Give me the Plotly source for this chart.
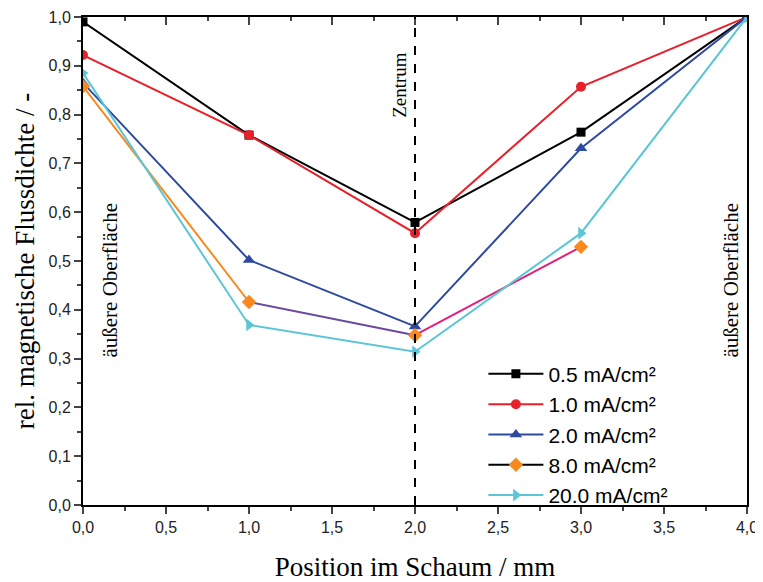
import plotly.graph_objects as go

positions = [0.0, 1.0, 2.0, 3.0, 4.0]
s05 = [0.99, 0.758, 0.579, 0.764, 1.0]
s10 = [0.922, 0.758, 0.557, 0.857, 1.0]
s20 = [0.865, 0.502, 0.366, 0.731, 1.0]
s80_x = [0.0, 1.0, 2.0, 3.0]
s80 = [0.858, 0.416, 0.348, 0.529]
s200 = [0.885, 0.369, 0.314, 0.557, 1.0]
labels = ["0.5 mA/cm²", "1.0 mA/cm²", "2.0 mA/cm²", "8.0 mA/cm²", "20.0 mA/cm²"]
seg_colors_80 = ["#f7891f", "#6a4a9c", "#e0207a"]

BLACK = "#000000"
RED = "#e8202a"
BLUE = "#2e4aa0"
ORANGE = "#f7891f"
CYAN = "#5cc6d6"

fig = go.Figure()

def add(x, y, name, color, symbol, size=9):
    fig.add_trace(go.Scatter(x=x, y=y, mode="lines+markers", name=name,
                             line=dict(color=color, width=2),
                             marker=dict(color=color, symbol=symbol, size=size)))

add(positions, s05, labels[0], BLACK, "square", 9)
add(positions, s10, labels[1], RED, "circle", 10)
add(positions, s20, labels[2], BLUE, "triangle-up", 11)

# 8.0 series: multicoloured segments, legend entry black line with orange diamond
for i in range(len(s80_x) - 1):
    fig.add_trace(go.Scatter(x=s80_x[i:i + 2], y=s80[i:i + 2], mode="lines",
                             line=dict(color=seg_colors_80[i], width=2),
                             showlegend=False, hoverinfo="skip"))
fig.add_trace(go.Scatter(x=s80_x, y=s80, mode="markers", showlegend=False,
                         marker=dict(color=ORANGE, symbol="diamond", size=11)))
fig.add_trace(go.Scatter(x=[None], y=[None], mode="lines+markers", name=labels[3],
                         line=dict(color=BLACK, width=2),
                         marker=dict(color=ORANGE, symbol="diamond", size=11)))

add(positions, s200, labels[4], CYAN, "triangle-right", 11)

# invisible trace for top axis
fig.add_trace(go.Scatter(x=[0, 4], y=[0, 0], xaxis="x2", mode="lines",
                         line=dict(width=0), showlegend=False, hoverinfo="skip"))

fig.add_shape(type="line", x0=2, x1=2, y0=0, y1=1, xref="x", yref="y",
              line=dict(color="black", width=2, dash="dash"))

serif = "Liberation Serif, Times New Roman, serif"
sans = "Liberation Sans, Arial, sans-serif"

fig.add_annotation(x=2, y=0.86, xref="x", yref="y", text="Zentrum", textangle=-90,
                   showarrow=False, xanchor="right", xshift=-3,
                   font=dict(family=serif, size=19, color="black"))
fig.add_annotation(x=0, y=0.46, xref="x", yref="y", text="äußere Oberfläche", textangle=-90,
                   showarrow=False, xanchor="left", xshift=13,
                   font=dict(family=serif, size=21, color="black"))
fig.add_annotation(x=4, y=0.46, xref="x", yref="y", text="äußere Oberfläche", textangle=-90,
                   showarrow=False, xanchor="right", xshift=-2,
                   font=dict(family=serif, size=21, color="black"))

# the page adds an 8px body margin; size the figure so the plot lands where the reference has it
fig.update_layout(
    width=755, height=574,
    margin=dict(l=75, r=16, t=9, b=77),
    paper_bgcolor="white", plot_bgcolor="white",
    showlegend=True,
    legend=dict(x=0.603, y=0.31, xanchor="left", yanchor="top",
                font=dict(family=sans, size=21, color="black"),
                bgcolor="rgba(0,0,0,0)", tracegroupgap=0, itemwidth=55),
    xaxis=dict(range=[0, 4], tickmode="linear", tick0=0, dtick=0.5,
               tickformat=".1f", ticks="outside", ticklen=7, tickwidth=1.5,
               minor=dict(dtick=0.25, ticks="outside", ticklen=4, tickwidth=1.5),
               showline=True, linecolor="black", linewidth=2, mirror=False,
               showgrid=False, zeroline=False, automargin=False,
               tickfont=dict(family=sans, size=16, color="#222"),
               title=dict(text="Position im Schaum / mm",
                          font=dict(family=serif, size=27, color="black"), standoff=22)),
    xaxis2=dict(range=[0, 4], overlaying="x", side="top", matches="x",
                tickmode="linear", tick0=0, dtick=0.5, ticks="inside", ticklen=8,
                tickwidth=1.5, minor=dict(dtick=0.25, ticks="inside", ticklen=4, tickwidth=1.5),
                showticklabels=False, showline=True, linecolor="black", linewidth=2,
                showgrid=False, zeroline=False, automargin=False),
    yaxis=dict(range=[0, 1], tickmode="linear", tick0=0, dtick=0.1,
               tickformat=".1f", ticks="outside", ticklen=7, tickwidth=1.5,
               minor=dict(dtick=0.05, ticks="outside", ticklen=4, tickwidth=1.5),
               showline=True, linecolor="black", linewidth=2, mirror=True,
               showgrid=False, zeroline=False, automargin=False,
               tickfont=dict(family=sans, size=16, color="#222"),
               title=dict(text="rel. magnetische Flussdichte / -",
                          font=dict(family=serif, size=27, color="black"), standoff=6)),
    separators=",.",
)

fig.write_html("out.html")
